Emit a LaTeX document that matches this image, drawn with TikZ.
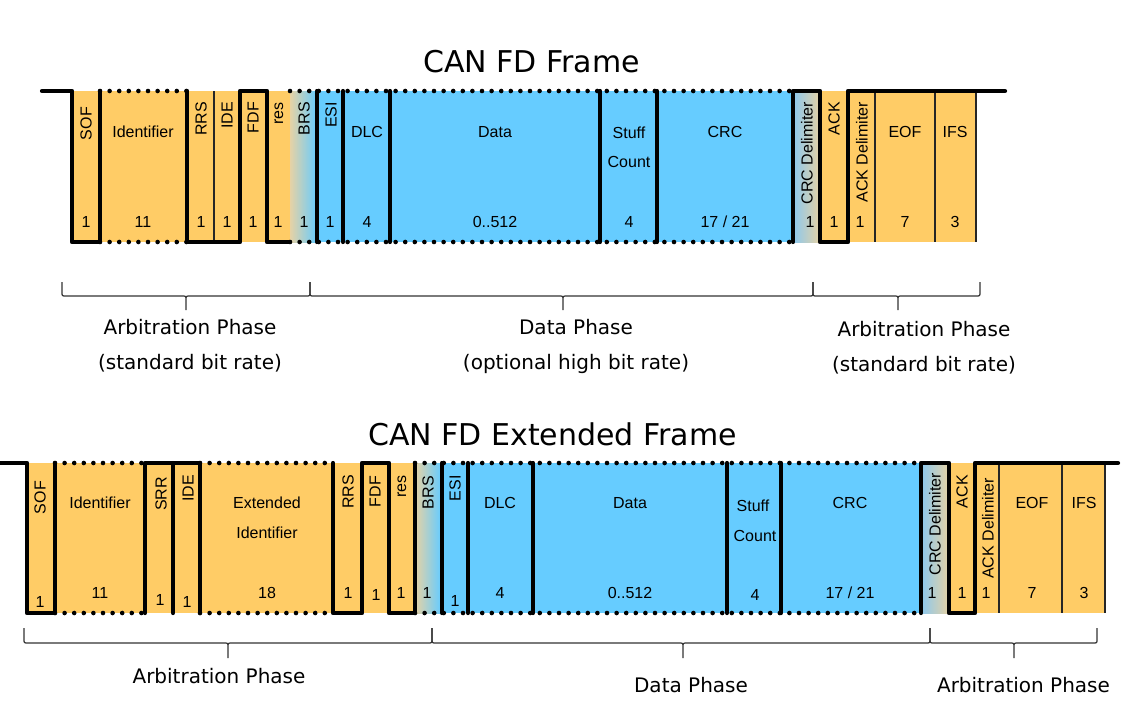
\documentclass[tikz,border=0pt]{standalone}
\usepackage{fontspec}
\setmainfont{Liberation Sans}
\newfontfamily\dvfont{DejaVu Sans}
\definecolor{cfo}{RGB}{255,204,102}
\definecolor{cfb}{RGB}{102,204,255}
\definecolor{ctan}{RGB}{230,210,165}
\definecolor{cgb}{RGB}{140,200,238}
\tikzset{
  sig/.style={line width=4.2pt, line join=round, line cap=round},
  dots/.style={line width=4.6pt, line cap=round, dash pattern=on 0pt off 9.6pt},
  sep/.style={line width=1.3pt, draw=black!85},
  vlab/.style={rotate=90, anchor=east, inner sep=0pt, font=\fontsize{16}{19}\selectfont},
  hlab/.style={anchor=base, inner sep=0pt, font=\fontsize{16}{19}\selectfont},
  ttl/.style={anchor=base, inner sep=0pt, font=\dvfont\fontsize{30}{36}\selectfont},
  phl/.style={anchor=base, inner sep=0pt, font=\dvfont\fontsize{20}{24}\selectfont},
  brc/.style={line width=1.2pt, draw=black!80, line join=round},
}
\newcommand{\mybrace}[5]{%
  \draw[brc] (#1,#4) -- (#1,{#4+#5/2-4}) .. controls (#1,{#4+#5/2}) .. ({#1+4},{#4+#5/2})
    -- ({#3-4},{#4+#5/2}) .. controls (#3,{#4+#5/2}) .. (#3,{#4+#5/2+4}) -- (#3,{#4+#5})
    (#3,{#4+#5/2+4}) .. controls (#3,{#4+#5/2}) .. ({#3+4},{#4+#5/2})
    -- ({#2-4},{#4+#5/2}) .. controls (#2,{#4+#5/2}) .. (#2,{#4+#5/2-4}) -- (#2,#4);}
\begin{document}
\begin{tikzpicture}[x=1pt,y=-1pt]
\useasboundingbox (0,0) rectangle (1134,710);
\fill[white] (0,0) rectangle (1134,710);

% ================= CAN FD Frame =================
\node[ttl] (t1) at (531.5,72) {CAN FD Frame};
% fills
\fill[cfo] (72,91) rectangle (290,242);
\shade[left color=ctan, right color=cfb] (290,91) rectangle (317,242);
\fill[cfb] (317,91) rectangle (793,242);
\shade[left color=cgb, right color=ctan] (793,91) rectangle (820,242);
\fill[cfo] (820,91) rectangle (976,242);
% thin separators
\foreach \x in {214,875,935,976} \draw[sep] (\x,91) -- (\x,242);
% dotted
\draw[dots] (100,91) -- (187,91);
\draw[dots] (100,242) -- (187,242);
\draw[dots] (290,91) -- (793,91);
\draw[dots] (290,242) -- (793,242);
% signal
\draw[sig] (42,91) -- (72,91) -- (72,242) -- (100,242) -- (100,91);
\draw[sig] (187,91) -- (187,242) -- (240,242) -- (240,91) -- (267,91) -- (267,242) -- (290,242);
\foreach \x in {317,343,390,600,657} \draw[sig] (\x,91) -- (\x,242);
\draw[sig] (793,242) -- (793,91) -- (820,91) -- (820,242) -- (848,242) -- (848,91) -- (1005,91);
% labels
\node[vlab] (a-sof) at (86,107) {SOF};
\node[vlab] (a-rrs) at (201,102) {RRS};
\node[vlab] (a-ide) at (227,102) {IDE};
\node[vlab] (a-fdf) at (253,102) {FDF};
\node[vlab] (a-res) at (279,102) {res};
\node[vlab] (a-brs) at (304,102) {BRS};
\node[vlab] (a-esi) at (331,102) {ESI};
\node[vlab] (a-crcd) at (807,102) {CRC Delimiter};
\node[vlab] (a-ack) at (834,102) {ACK};
\node[vlab] (a-ackd) at (862,102) {ACK Delimiter};
\node[hlab] (a-id) at (143,137) {Identifier};
\node[hlab] (a-dlc) at (367,137) {DLC};
\node[hlab] (a-data) at (495,137) {Data};
\node[hlab] (a-st1) at (629,138) {Stuff};
\node[hlab] (a-st2) at (629,167) {Count};
\node[hlab] (a-crc) at (725,137) {CRC};
\node[hlab] (a-eof) at (905,137) {EOF};
\node[hlab] (a-ifs) at (955,137) {IFS};
\node[hlab] (an1) at (86,227) {1};
\node[hlab] (an2) at (143,227) {11};
\node[hlab] (an3) at (201,227) {1};
\node[hlab] (an4) at (227,227) {1};
\node[hlab] (an5) at (253,227) {1};
\node[hlab] (an6) at (278,227) {1};
\node[hlab] (an7) at (304,227) {1};
\node[hlab] (an8) at (330,227) {1};
\node[hlab] (an9) at (367,227) {4};
\node[hlab] (an10) at (495,227) {0..512};
\node[hlab] (an11) at (629,227) {4};
\node[hlab] (an12) at (725,227) {17 / 21};
\node[hlab] (an13) at (810,227) {1};
\node[hlab] (an14) at (834,227) {1};
\node[hlab] (an15) at (860,227) {1};
\node[hlab] (an16) at (905,227) {7};
\node[hlab] (an17) at (955,227) {3};
% braces
\mybrace{62}{310}{186}{282}{28}
\mybrace{310}{813}{563}{282}{28}
\mybrace{813}{980}{898}{282}{28}
\node[phl] (p1) at (190,334) {Arbitration Phase};
\node[phl] (p2) at (190,369) {(standard bit rate)};
\node[phl] (p3) at (576,334) {Data Phase};
\node[phl] (p4) at (576,369) {(optional high bit rate)};
\node[phl] (p5) at (924,336) {Arbitration Phase};
\node[phl] (p6) at (924,371) {(standard bit rate)};

% ================= CAN FD Extended Frame =================
\node[ttl] (t2) at (552.5,445) {CAN FD Extended Frame};
\fill[cfo] (27,463) rectangle (415,613);
\shade[left color=ctan, right color=cfb] (415,463) rectangle (441,613);
\fill[cfb] (441,463) rectangle (921,613);
\shade[left color=cgb, right color=ctan] (921,463) rectangle (949,613);
\fill[cfo] (949,463) rectangle (1105,613);
\foreach \x in {999,1062,1105} \draw[sep] (\x,463) -- (\x,613);
\draw[dots] (55,463) -- (145,463);
\draw[dots] (55,613) -- (145,613);
\draw[dots] (200,463) -- (333,463);
\draw[dots] (200,613) -- (333,613);
\draw[dots] (415,463) -- (921,463);
\draw[dots] (415,613) -- (921,613);
\draw[sig] (0,463) -- (27,463) -- (27,613) -- (55,613) -- (55,463);
\draw[sig] (145,613) -- (145,463) -- (200,463) -- (200,613);
\draw[sig] (173,463) -- (173,613);
\draw[sig] (333,463) -- (333,613) -- (362,613) -- (362,463) -- (389,463) -- (389,613) -- (415,613) -- (415,463);
\foreach \x in {442,468,533,727,781} \draw[sig] (\x,463) -- (\x,613);
\draw[sig] (921,613) -- (921,463) -- (949,463) -- (949,613) -- (975,613) -- (975,463) -- (1118,463);
\node[vlab] (b-sof) at (40,481) {SOF};
\node[vlab] (b-srr) at (161,477) {SRR};
\node[vlab] (b-ide) at (188,475) {IDE};
\node[vlab] (b-rrs) at (348,475) {RRS};
\node[vlab] (b-fdf) at (375,476) {FDF};
\node[vlab] (b-res) at (402,475) {res};
\node[vlab] (b-brs) at (428,476) {BRS};
\node[vlab] (b-esi) at (455,475) {ESI};
\node[vlab] (b-crcd) at (935,473) {CRC Delimiter};
\node[vlab] (b-ack) at (962,475) {ACK};
\node[vlab] (b-ackd) at (988,478) {ACK Delimiter};
\node[hlab] (b-id) at (100,508) {Identifier};
\node[hlab] (b-ex1) at (267,508) {Extended};
\node[hlab] (b-ex2) at (267,538) {Identifier};
\node[hlab] (b-dlc) at (500,508) {DLC};
\node[hlab] (b-data) at (630,508) {Data};
\node[hlab] (b-st1) at (753,511) {Stuff};
\node[hlab] (b-st2) at (755,541) {Count};
\node[hlab] (b-crc) at (850,508) {CRC};
\node[hlab] (b-eof) at (1032,508) {EOF};
\node[hlab] (b-ifs) at (1084,508) {IFS};
\node[hlab] (bn1) at (40,607) {1};
\node[hlab] (bn2) at (100,598) {11};
\node[hlab] (bn3) at (160,605) {1};
\node[hlab] (bn4) at (187,607) {1};
\node[hlab] (bn5) at (267,598) {18};
\node[hlab] (bn6) at (348,598) {1};
\node[hlab] (bn7) at (376,600) {1};
\node[hlab] (bn8) at (401,598) {1};
\node[hlab] (bn9) at (427,598) {1};
\node[hlab] (bn10) at (455,606) {1};
\node[hlab] (bn11) at (500,598) {4};
\node[hlab] (bn12) at (630,598) {0..512};
\node[hlab] (bn13) at (755,600) {4};
\node[hlab] (bn14) at (850,598) {17 / 21};
\node[hlab] (bn15) at (932,598) {1};
\node[hlab] (bn16) at (962,598) {1};
\node[hlab] (bn17) at (986,598) {1};
\node[hlab] (bn18) at (1032,598) {7};
\node[hlab] (bn19) at (1084,598) {3};
\mybrace{24}{432}{228}{628}{30}
\mybrace{432}{930}{683}{628}{30}
\mybrace{930}{1097}{1014}{628}{30}
\node[phl] (q1) at (219,683) {Arbitration Phase};
\node[phl] (q2) at (691,692) {Data Phase};
\node[phl] (q3) at (1023.5,692) {Arbitration Phase};
\end{tikzpicture}
\end{document}
